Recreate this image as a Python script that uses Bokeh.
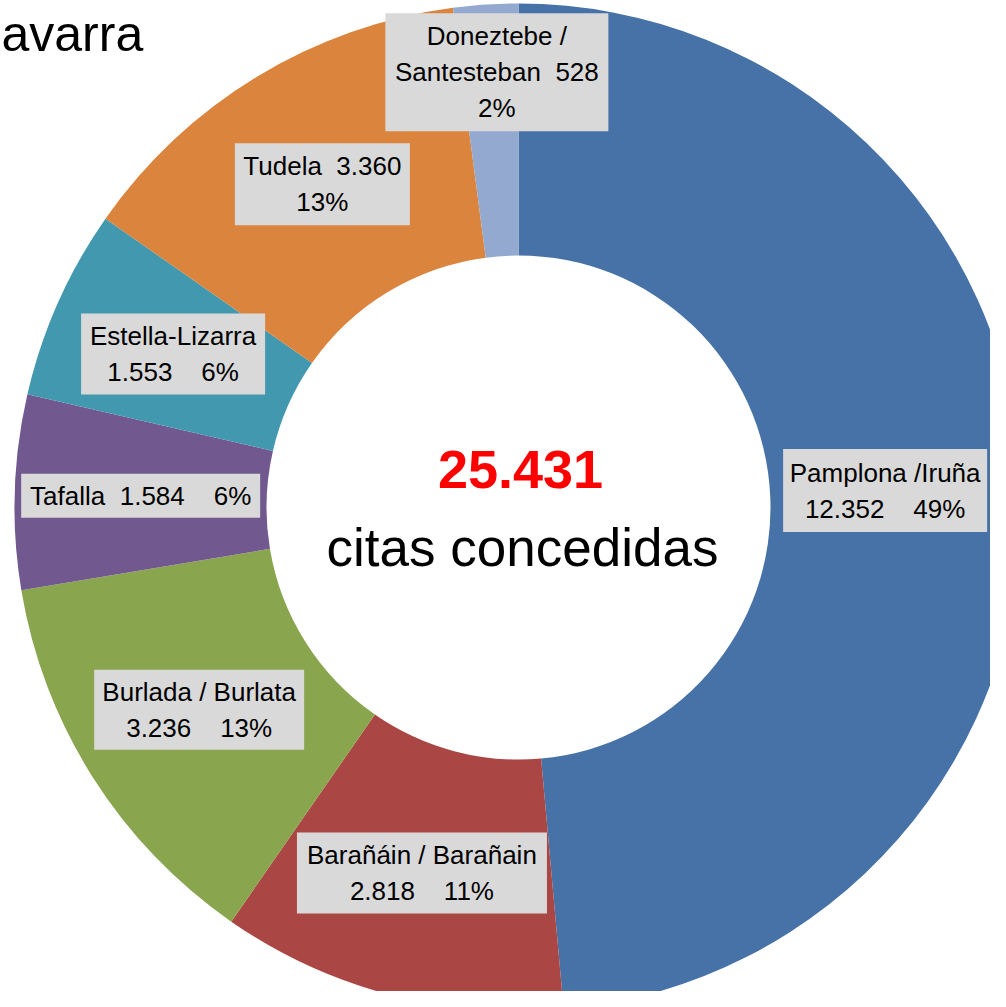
import math
from bokeh.plotting import figure
from bokeh.models import Range1d, ColumnDataSource
from bokeh.core.properties import value
from bokeh.embed import file_html
from bokeh.resources import INLINE

# ---- data ----
names = ["Pamplona /Iruña", "Barañáin / Barañain", "Burlada / Burlata", "Tafalla",
         "Estella-Lizarra", "Tudela", "Doneztebe /\nSantesteban"]
citas = [12352, 2818, 3236, 1584, 1553, 3360, 528]
colors = ["#4672A7", "#AA4643", "#89A54E", "#71588F", "#4198AF", "#DB843D", "#93A9CF"]
label_lines = [
    ["Pamplona /Iruña", "12.352\u00a0\u00a0\u00a0\u00a049%"],
    ["Barañáin / Barañain", "2.818\u00a0\u00a0\u00a0\u00a011%"],
    ["Burlada / Burlata", "3.236\u00a0\u00a0\u00a0\u00a013%"],
    ["Tafalla\u00a0\u00a01.584\u00a0\u00a0\u00a0\u00a06%"],
    ["Estella-Lizarra", "1.553\u00a0\u00a0\u00a0\u00a06%"],
    ["Tudela\u00a0\u00a03.360", "13%"],
    ["Doneztebe /", "Santesteban\u00a0\u00a0528", "2%"],
]
total_text = "25.431"
sub_text = "citas concedidas"
title_text = "avarra"

# ---- layout (reference pixel coordinates, y measured upward from 1007) ----
H = 1007
CX, CY = 518, H - 507
R_OUT, R_IN = 504, 252
box_w = [204, 250, 210, 239, 184, 175, 223]
box_h = [83, 81, 80, 44, 81, 82, 118]
label_shift = [(-11, 0), (0, 0), (0, 0), (0, 0), (0, 0), (0, 0), (3, 58)]
LINE_H = 36
FONT = "Liberation Sans"

p = figure(width=990, height=991, output_backend="svg", toolbar_location=None,
           x_range=Range1d(0, 990), y_range=Range1d(H - 991, H), min_border=0)
p.axis.visible = False
p.grid.visible = False
p.outline_line_color = None
p.background_fill_color = "white"
p.border_fill_color = "white"

total = sum(citas)
cum = 0
starts, ends, lx, ly = [], [], [], []
for v in citas:
    a0 = cum / total
    a1 = (cum + v) / total
    cum += v
    starts.append(math.pi / 2 - 2 * math.pi * a0)
    ends.append(math.pi / 2 - 2 * math.pi * a1)
    mid = 2 * math.pi * (a0 + a1) / 2
    rm = (R_OUT + R_IN) / 2
    lx.append(CX + rm * math.sin(mid))
    ly.append(CY + rm * math.cos(mid))

src = ColumnDataSource(dict(start=starts, end=ends, color=colors,
                            x=[CX] * len(citas), y=[CY] * len(citas)))
p.annular_wedge(x="x", y="y", inner_radius=R_IN, outer_radius=R_OUT,
                start_angle="start", end_angle="end", direction="clock",
                fill_color="color", line_color=None, source=src)

# label boxes and texts
bl, br, bt, bb = [], [], [], []
tx, ty, tt = [], [], []
for i in range(len(citas)):
    x = lx[i] + label_shift[i][0]
    y = ly[i] + label_shift[i][1]
    bl.append(x - box_w[i] / 2)
    br.append(x + box_w[i] / 2)
    bt.append(y + box_h[i] / 2)
    bb.append(y - box_h[i] / 2)
    n = len(label_lines[i])
    for j, line in enumerate(label_lines[i]):
        tx.append(x)
        ty.append(y + ((n - 1) / 2 - j) * LINE_H)
        tt.append(line)

p.quad(left=bl, right=br, top=bt, bottom=bb, fill_color="#D9D9D9", line_color=None)
p.text(x=tx, y=ty, text=tt, text_font=value(FONT), text_font_size="26px",
       text_align="center", text_baseline="middle", text_color="black")

# center texts
p.text(x=[CX + 2], y=[H - 469], text=[total_text], text_font=value(FONT),
       text_font_size="54px", text_font_style="bold", text_color="#FF0000",
       text_align="center", text_baseline="middle")
p.text(x=[CX + 4], y=[H - 547], text=[sub_text], text_font=value(FONT),
       text_font_size="53px", text_color="black",
       text_align="center", text_baseline="middle")

# title fragment visible at the top-left corner
p.text(x=[1], y=[H - 33], text=[title_text], text_font=value(FONT),
       text_font_size="50px", text_color="black",
       text_align="left", text_baseline="alphabetic")

open("out.html", "w").write(file_html(p, INLINE))
